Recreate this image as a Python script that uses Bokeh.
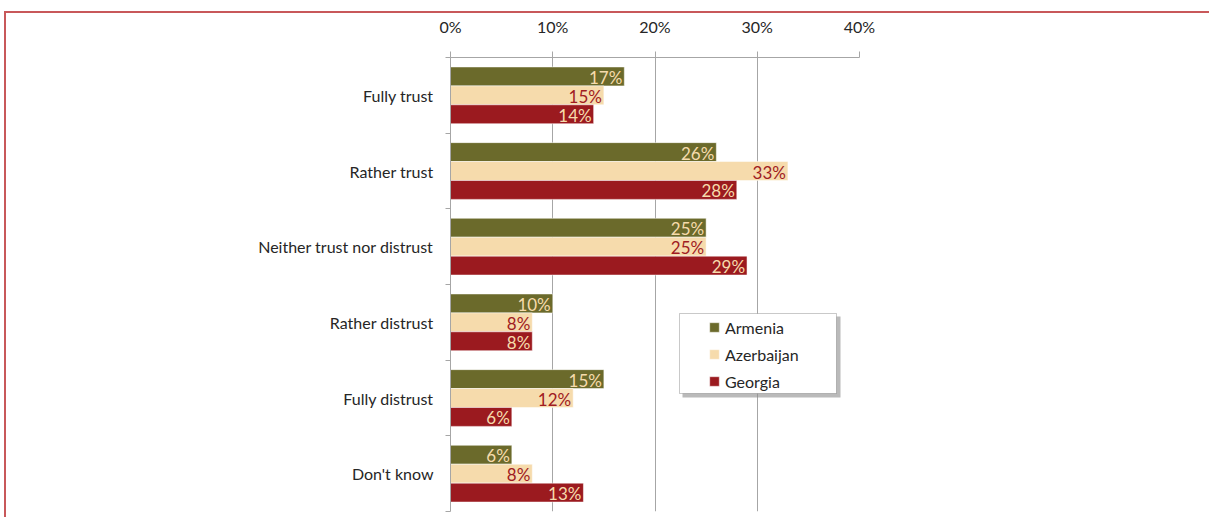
from bokeh.plotting import figure
from bokeh.models import (Range1d, FixedTicker, BoxAnnotation,
                          Legend, LegendItem, ColumnDataSource)
from bokeh.transform import dodge
from bokeh.core.properties import value
from bokeh.embed import file_html
from bokeh.resources import INLINE

categories = ["Fully trust", "Rather trust", "Neither trust nor distrust",
              "Rather distrust", "Fully distrust", "Don't know"]
series_names = ["Armenia", "Azerbaijan", "Georgia"]
armenia = [17, 26, 25, 10, 15, 6]
azerbaijan = [15, 33, 25, 8, 12, 8]
georgia = [14, 28, 29, 8, 6, 13]
x_ticks = [0, 10, 20, 30, 40]
x_tick_labels = ["0%", "10%", "20%", "30%", "40%"]

FONT = "Lato"
TEXT = "#262626"
GRID = "#a6a6a6"
BORDER = "#c8585a"
bar_colors = ["#6b6a2b", "#f6dbac", "#9b1a1f"]
label_colors = ["#f6dbac", "#a01c22", "#f6dbac"]
offsets = [0.25, 0.0, -0.25]

n = len(categories)
ypos = [n - 0.5 - i for i in range(n)]  # first category on top

# page offsets for the outer red frame: margin 4/11 px + 2px border
p = figure(width=1205, height=506, output_backend="svg", toolbar_location=None,
           x_range=Range1d(0, 40), y_range=Range1d(0, n),
           x_axis_location="above", y_axis_location="left",
           min_border_left=444, min_border_right=352, min_border_top=44, min_border_bottom=8)
p.styles = {"margin-left": "4px", "margin-top": "11px",
            "border-left": f"2px solid {BORDER}", "border-top": f"2px solid {BORDER}"}
p.outline_line_color = None
p.background_fill_color = "white"
p.border_fill_color = "white"

# top x axis
xa = p.xaxis[0]
xa.ticker = FixedTicker(ticks=x_ticks, minor_ticks=[])
xa.major_label_overrides = {t: l for t, l in zip(x_ticks, x_tick_labels)}
xa.axis_line_color = GRID
xa.major_tick_line_color = GRID
xa.major_tick_in = 0
xa.major_tick_out = 6
xa.minor_tick_line_color = None
xa.major_label_standoff = 16
xa.major_label_text_font = FONT
xa.major_label_text_font_size = "16px"
xa.major_label_text_color = TEXT

p.xgrid.ticker = FixedTicker(ticks=x_ticks)
p.xgrid.grid_line_color = GRID
p.ygrid.visible = False

# left category axis: labels at group centres, ticks at group boundaries
ya = p.yaxis[0]
ya.ticker = FixedTicker(ticks=ypos, minor_ticks=list(range(n + 1)))
ya.major_label_overrides = {y: c for y, c in zip(ypos, categories)}
ya.major_tick_line_color = None
ya.major_tick_in = 0
ya.major_tick_out = 0
ya.minor_tick_line_color = GRID
ya.minor_tick_in = 0
ya.minor_tick_out = 5
ya.axis_line_color = GRID
ya.major_label_standoff = 12
ya.major_label_text_font = FONT
ya.major_label_text_font_size = "16px"
ya.major_label_text_color = TEXT

src = ColumnDataSource(dict(
    y=ypos,
    Armenia=armenia, Azerbaijan=azerbaijan, Georgia=georgia,
    Armenia_lbl=[f"{v}%" for v in armenia],
    Azerbaijan_lbl=[f"{v}%" for v in azerbaijan],
    Georgia_lbl=[f"{v}%" for v in georgia],
))

renderers = []
for i, name in enumerate(series_names):
    r = p.hbar(y=dodge("y", offsets[i]), left=0, right=name, height=0.25,
               source=src, fill_color=bar_colors[i], line_color="white", line_alpha=0.5,
               line_width=1)
    renderers.append(r)
    p.text(x=name, y=dodge("y", offsets[i]), text=name + "_lbl",
           source=src, text_align="right", text_baseline="middle", x_offset=-2, y_offset=1,
           text_color=label_colors[i], text_font=value(FONT), text_font_size="17px")

# legend frame with shadow (screen units relative to frame bottom-left)
p.add_layout(BoxAnnotation(left=232, right=390, top=195, bottom=114,
                           left_units="screen", right_units="screen",
                           top_units="screen", bottom_units="screen",
                           fill_color="#8c8c8c", fill_alpha=0.6, line_color=None))
p.add_layout(BoxAnnotation(left=229, right=386, top=198, bottom=118,
                           left_units="screen", right_units="screen",
                           top_units="screen", bottom_units="screen",
                           fill_color="white", fill_alpha=1, line_color="#4d4d4d",
                           line_width=1))

legend = Legend(items=[LegendItem(label=nm, renderers=[r]) for nm, r in zip(series_names, renderers)],
                location=(258, 120), glyph_width=12, glyph_height=12, label_height=20,
                label_width=60, spacing=7, padding=0, margin=0, label_standoff=5,
                border_line_color=None, background_fill_alpha=0,
                label_text_font=FONT, label_text_font_size="16px", label_text_color=TEXT)
p.add_layout(legend)

open("out.html", "w").write(file_html(p, INLINE))
